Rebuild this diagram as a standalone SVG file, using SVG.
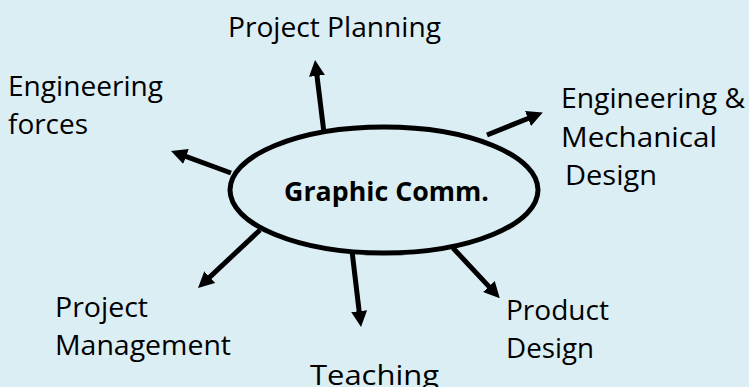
<svg xmlns="http://www.w3.org/2000/svg" width="749" height="387" viewBox="0 0 749 387">
  <style>
    .lbl { font-family: "Open Sans", "Liberation Sans", sans-serif; font-size: 28px; fill: #000; }
    .main { font-family: "Open Sans", "Liberation Sans", sans-serif; font-size: 27px; font-weight: bold; fill: #000; }
    .conn { stroke: #000; stroke-width: 5; fill: none; marker-end: url(#arrow); }
  </style>
  <defs>
    <marker id="arrow" markerUnits="userSpaceOnUse" markerWidth="16" markerHeight="16" viewBox="0 0 16 16" refX="4" refY="8" orient="auto">
      <path d="M0,0 L16,8 L0,16 Z" fill="#000"/>
    </marker>
  </defs>
  <rect x="0" y="0" width="749" height="387" fill="#DBEEF4"/>
  <g id="connectors">
    <line class="conn" x1="324" y1="133" x2="316.5" y2="71.9"/>
    <line class="conn" x1="231" y1="173" x2="182.3" y2="155.1"/>
    <line class="conn" x1="487" y1="135" x2="531.7" y2="117"/>
    <line class="conn" x1="260" y1="230" x2="206.8" y2="279.8"/>
    <line class="conn" x1="352" y1="251" x2="359.6" y2="315.1"/>
    <line class="conn" x1="453" y1="248" x2="491.6" y2="289.4"/>
  </g>
  <g id="center">
    <ellipse cx="384" cy="190" rx="154" ry="63" fill="#DBEEF4" stroke="#000" stroke-width="5"/>
    <text class="main" x="284" y="201" textLength="205" lengthAdjust="spacingAndGlyphs">Graphic Comm.</text>
  </g>
  <g id="project-planning">
    <text class="lbl" x="228" y="37" textLength="213" lengthAdjust="spacingAndGlyphs">Project Planning</text>
  </g>
  <g id="engineering-forces">
    <text class="lbl" x="8" y="96" textLength="155" lengthAdjust="spacingAndGlyphs">Engineering</text>
    <text class="lbl" x="8" y="134" textLength="80" lengthAdjust="spacingAndGlyphs">forces</text>
  </g>
  <g id="engineering-mechanical-design">
    <text class="lbl" x="561" y="108" textLength="184" lengthAdjust="spacingAndGlyphs">Engineering &amp;</text>
    <text class="lbl" x="561" y="147" textLength="156" lengthAdjust="spacingAndGlyphs">Mechanical</text>
    <text class="lbl" x="565" y="185" textLength="92" lengthAdjust="spacingAndGlyphs">Design</text>
  </g>
  <g id="project-management">
    <text class="lbl" x="55" y="317" textLength="93" lengthAdjust="spacingAndGlyphs">Project</text>
    <text class="lbl" x="55" y="355" textLength="176" lengthAdjust="spacingAndGlyphs">Management</text>
  </g>
  <g id="teaching">
    <text class="lbl" x="310" y="385" textLength="129" lengthAdjust="spacingAndGlyphs">Teaching</text>
  </g>
  <g id="product-design">
    <text class="lbl" x="506" y="320" textLength="103" lengthAdjust="spacingAndGlyphs">Product</text>
    <text class="lbl" x="506" y="358" textLength="88" lengthAdjust="spacingAndGlyphs">Design</text>
  </g>
</svg>
